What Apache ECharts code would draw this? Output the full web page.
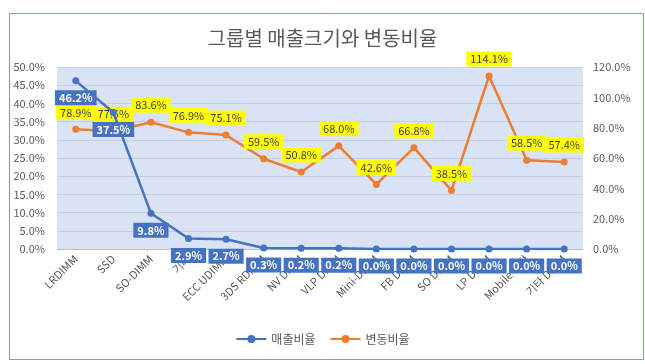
<!DOCTYPE html>
<html>
<head>
<meta charset="utf-8">
<script src="https://cdn.jsdelivr.net/npm/echarts@6/dist/echarts.min.js"></script>
<style>html,body{margin:0;padding:0;background:#fff}#c{width:645px;height:364px}</style>
</head>
<body>
<div id="c"></div>
<script>
const categories = ["LRDIMM", "SSD", "SO-DIMM", "기타", "ECC UDIMM", "3DS RDIMM", "NV DIMM", "VLP DIMM", "Mini-DIMM", "FB DIMM", "SO DIMM", "LP DIMM", "Mobile 기타", "기타 DIMM"];
const salesRatio = [46.2, 37.5, 9.8, 2.9, 2.7, 0.3, 0.2, 0.2, 0.0, 0.0, 0.0, 0.0, 0.0, 0.0];
const changeRatio = [78.9, 77.6, 83.6, 76.9, 75.1, 59.5, 50.8, 68.0, 42.6, 66.8, 38.5, 114.1, 58.5, 57.4];
const leftTicks = {min: 0, max: 50, interval: 5};
const rightTicks = {min: 0, max: 120, interval: 20};

const font = "'Noto Sans CJK KR', 'Open Sans', sans-serif";
const chart = echarts.init(document.getElementById('c'), null, {renderer: 'canvas'});
const pct = v => v.toFixed(1) + '%';
chart.setOption({
  backgroundColor: '#fff',
  textStyle: {fontFamily: font},
  animation: false,
  graphic: [{
    type: 'rect', left: 7, top: 11, z: -1,
    shape: {width: 634, height: 346},
    style: {fill: 'none', stroke: '#7f9cc8', lineWidth: 1}
  }],
  title: {
    text: '그룹별 매출크기와 변동비율', left: 'center', top: 23,
    textStyle: {fontSize: 20, fontWeight: 'normal', color: '#595959', fontFamily: font}
  },
  legend: {
    bottom: 14, left: 'center', itemWidth: 30, itemHeight: 10, itemGap: 14,
    textStyle: {fontSize: 12, color: '#595959', fontFamily: font},
    data: ['매출비율', '변동비율']
  },
  grid: {
    left: 57, right: 62, top: 67, bottom: 115,
    show: true, backgroundColor: '#dae3f3', borderWidth: 0
  },
  xAxis: {
    type: 'category', data: categories, boundaryGap: true,
    axisLine: {lineStyle: {color: '#bfbfbf'}}, axisTick: {show: false},
    axisLabel: {rotate: 45, fontSize: 11, color: '#595959', interval: 0, margin: 8, fontFamily: font}
  },
  yAxis: [{
    type: 'value', min: leftTicks.min, max: leftTicks.max, interval: leftTicks.interval,
    axisLabel: {formatter: pct, fontSize: 11, color: '#595959', margin: 12, fontFamily: font},
    axisLine: {show: false}, axisTick: {show: false},
    splitLine: {lineStyle: {color: '#c5cfe2', width: 1}}
  }, {
    type: 'value', min: rightTicks.min, max: rightTicks.max, interval: rightTicks.interval,
    axisLabel: {formatter: pct, fontSize: 11, color: '#595959', margin: 10, fontFamily: font},
    axisLine: {show: false}, axisTick: {show: false}, splitLine: {show: false}
  }],
  series: [{
    name: '매출비율', type: 'line', yAxisIndex: 0, data: salesRatio,
    symbol: 'circle', symbolSize: 7, z: 3,
    lineStyle: {width: 2.5, color: '#4472c4'}, itemStyle: {color: '#4472c4'},
    label: {
      show: true, position: 'bottom', distance: 6, formatter: p => pct(p.value),
      backgroundColor: '#4472c4', color: '#fff', fontWeight: 'bold', fontSize: 11,
      padding: [2, 4], fontFamily: font
    }
  }, {
    name: '변동비율', type: 'line', yAxisIndex: 1, data: changeRatio,
    symbol: 'circle', symbolSize: 7, z: 2,
    lineStyle: {width: 2.5, color: '#ed7d31'}, itemStyle: {color: '#ed7d31'},
    label: {
      show: true, position: 'top', distance: 6, formatter: p => pct(p.value),
      backgroundColor: '#ffff00', color: '#404040', fontSize: 11,
      padding: [2, 4], fontFamily: font
    }
  }]
});
</script>
</body>
</html>
